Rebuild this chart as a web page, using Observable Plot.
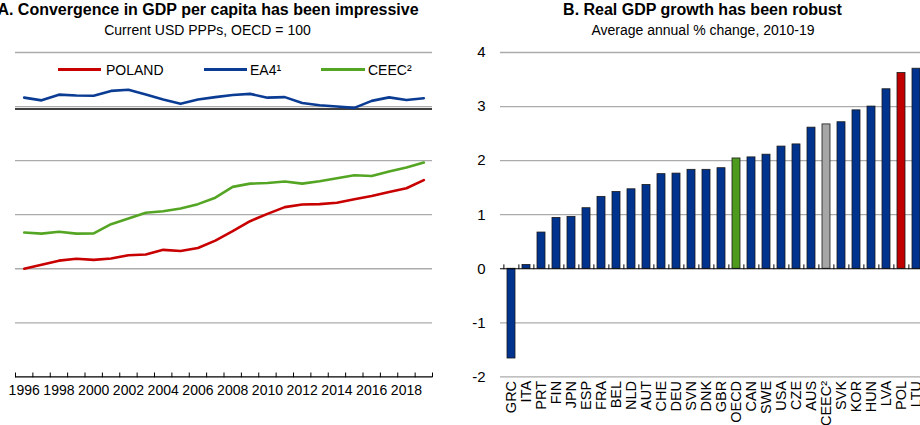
<!DOCTYPE html>
<html><head><meta charset="utf-8">
<script src="https://cdn.jsdelivr.net/npm/d3@7"></script>
<script src="https://cdn.jsdelivr.net/npm/@observablehq/plot@0.6"></script>
<style>
body{margin:0;background:#fff;}
#wrap{position:relative;width:920px;height:425px;overflow:hidden;background:#fff;font-family:"Liberation Sans",Arial,sans-serif;color:#000;}
.t{position:absolute;white-space:nowrap;transform:translateX(-50%);}
.title{font-weight:bold;font-size:16px;line-height:16px;top:1.5px;}
.sub{font-size:14px;line-height:14px;top:23px;}
.chart{position:absolute;top:0;}
.leg{position:absolute;top:62.7px;font-size:14px;line-height:14px;white-space:nowrap;}
.sw{position:absolute;top:67.5px;height:3px;}
</style></head>
<body><div id="wrap"></div>
<script>
// ---------- Panel A data ----------
const years = [1996,1997,1998,1999,2000,2001,2002,2003,2004,2005,2006,2007,2008,2009,2010,2011,2012,2013,2014,2015,2016,2017,2018,2019];
const poland = [40.0,41.5,43.0,43.7,43.3,43.8,45.0,45.3,47.0,46.6,47.7,50.4,53.9,57.6,60.3,62.8,63.8,63.9,64.4,65.7,66.9,68.4,69.8,72.8];
const ea4    = [103.3,102.3,104.4,104.1,104.0,105.8,106.2,104.5,102.6,101.0,102.6,103.5,104.3,104.7,103.3,103.5,101.3,100.5,100.0,99.5,102.1,103.4,102.4,103.1];
const ceec   = [53.4,53.0,53.7,53.0,53.1,56.5,58.6,60.7,61.3,62.3,63.9,66.3,70.3,71.5,71.7,72.3,71.5,72.4,73.5,74.6,74.3,76.0,77.5,79.3];
const seriesNames = ["POLAND","EA4¹","CEEC²"];
const yearLabels = [1996,1998,2000,2002,2004,2006,2008,2010,2012,2014,2016,2018];
const leftGrid = [20,40,60,80,100,120];

// ---------- Panel B data ----------
const countries = ["GRC","ITA","PRT","FIN","JPN","ESP","FRA","BEL","NLD","AUT","CHE","DEU","SVN","DNK","GBR","OECD","CAN","SWE","USA","CZE","AUS","CEEC²","SVK","KOR","HUN","LVA","POL","LTU"];
const growth = [-1.66,0.07,0.67,0.94,0.96,1.12,1.33,1.42,1.47,1.55,1.75,1.76,1.83,1.83,1.86,2.04,2.06,2.11,2.26,2.30,2.61,2.67,2.71,2.93,3.00,3.32,3.62,3.70];
const rightTicks = [-2,-1,0,1,2,3,4];

// ---------- styles ----------
const FONT = '"Liberation Sans", Arial, sans-serif';
const lineColors = {"POLAND":"#C80000","EA4¹":"#0B3C94","CEEC²":"#55A524"};
const barBlue = "#00338E";
const barHighlight = {"OECD":"#4E9A1C","CEEC²":"#A6A6A6","POL":"#C00000"};
const gridColor = "#ababab";

const lineRows = [];
seriesNames.forEach((s, k) => {
  const vals = [poland, ea4, ceec][k];
  years.forEach((yr, i) => lineRows.push({series: s, year: yr, value: vals[i]}));
});
const yearEdges = years.map(y => y - 0.5).concat([years[years.length-1] + 0.5]);
const tickShape = {draw(ctx, l){ ctx.moveTo(0,0); ctx.lineTo(0,-l); }};

const wrap = document.getElementById("wrap");

// Panel A
const leftW = 464, leftOff = -30;
const left = Plot.plot({
  width: leftW, height: 425,
  marginLeft: 45, marginRight: 2, marginTop: 52, marginBottom: 48.6,
  style: {fontFamily: FONT, fontSize: "14px", color: "#000", background: "transparent", overflow: "visible"},
  x: {domain: [years[0]-0.5, years[years.length-1]+0.5], label: null},
  y: {domain: [0, 120], axis: null, label: null},
  marks: [
    Plot.ruleY(leftGrid, {stroke: gridColor, strokeWidth: 1.3}),
    Plot.ruleY([100], {stroke: "#000", strokeWidth: 1.6, dy: 2.5}),
    Plot.line(lineRows, {x: "year", y: "value", z: "series", stroke: d => lineColors[d.series], strokeWidth: 2.6, strokeLinejoin: "round"}),
    Plot.ruleY([0], {stroke: "#000", strokeWidth: 1.2}),
    Plot.vector(yearEdges, {x: d => d, y: 0, length: 4, anchor: "start", rotate: 0, shape: tickShape, stroke: "#000", strokeWidth: 1}),
    Plot.axisX({ticks: yearLabels, tickSize: 0, tickPadding: 8, tickFormat: d => String(d), label: null})
  ]
});
left.classList.add("chart");
left.style.left = leftOff + "px";
wrap.appendChild(left);

// Panel B
const rightOff = 440, rightW = 500, rML = 60, rMR = 13.6;
const step = (rightW - rML - rMR) / countries.length;
const bars = countries.map((c, i) => ({country: c, value: growth[i]}));
const right = Plot.plot({
  width: rightW, height: 425,
  marginLeft: rML, marginRight: rMR, marginTop: 52, marginBottom: 48.6,
  style: {fontFamily: FONT, fontSize: "14px", color: "#000", background: "transparent", overflow: "visible"},
  x: {domain: countries, paddingInner: 0.45, paddingOuter: 0.225, label: null},
  y: {domain: [-2, 4], label: null},
  marks: [
    Plot.ruleY(rightTicks.filter(v => v !== 0), {stroke: gridColor, strokeWidth: 1.3}),
    Plot.barY(bars, {x: "country", y: "value", fill: d => barHighlight[d.country] || barBlue, stroke: "#1a1a1a", strokeWidth: 0.8}),
    Plot.ruleY([0], {stroke: "#000", strokeWidth: 1.2}),
    Plot.vector(countries, {x: d => d, y: 0, dx: -step/2, length: 4, anchor: "start", rotate: 0, shape: tickShape, stroke: "#000", strokeWidth: 1}),
    Plot.axisY({ticks: rightTicks, tickSize: 0, tickPadding: 15, tickFormat: d => String(d), label: null, fontSize: 15}),
    Plot.axisX({tickSize: 0, tickRotate: -90, tickPadding: 4, label: null, fontSize: 14.5})
  ]
});
right.classList.add("chart");
right.style.left = rightOff + "px";
wrap.appendChild(right);

// Titles and legend (HTML text)
function addDiv(cls, text, x, extra) {
  const d = document.createElement("div");
  d.className = cls; d.textContent = text;
  d.style.left = x + "px";
  if (extra) Object.assign(d.style, extra);
  wrap.appendChild(d);
  return d;
}
addDiv("t title", "A. Convergence in GDP per capita has been impressive", 208);
addDiv("t sub", "Current USD PPPs, OECD = 100", 207.5);
addDiv("t title", "B. Real GDP growth has been robust", 702.5);
addDiv("t sub", "Average annual % change, 2010-19", 703);

const legendPos = [[58,101,106],[204,247,250],[321,365,368]];
seriesNames.forEach((s, i) => {
  const [x0, x1, tx] = legendPos[i];
  const sw = document.createElement("div");
  sw.className = "sw"; sw.style.left = x0 + "px"; sw.style.width = (x1 - x0) + "px";
  sw.style.background = lineColors[s];
  wrap.appendChild(sw);
  addDiv("leg", s, tx);
});
</script></body></html>
